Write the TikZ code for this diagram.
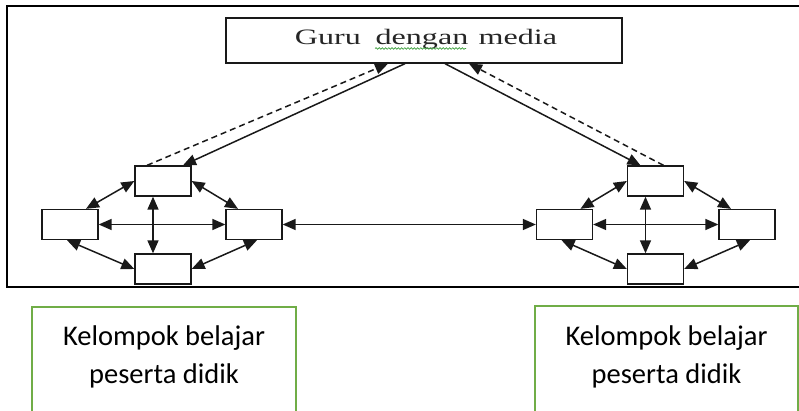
\documentclass[tikz,border=0pt]{standalone}
\usepackage{fontspec}
\setmainfont{Liberation Serif}
\newfontfamily\calib{Carlito}
\usetikzlibrary{arrows.meta,decorations.pathmorphing}
\definecolor{lin}{RGB}{25,25,25}
\definecolor{grn}{RGB}{112,173,71}
\definecolor{spell}{RGB}{60,160,60}
\tikzset{
  sbox/.style={draw=lin,line width=1.3pt,minimum width=56pt,minimum height=30pt,inner sep=0pt,fill=white},
  conn/.style={draw=lin,line width=1.5pt},
  tip/.tip={Triangle[length=13pt,width=11pt]},
  one/.style={conn,-tip},
  two/.style={conn,tip-tip},
  dsh/.style={conn,-tip,dash pattern=on 6pt off 4pt},
  ktext/.style={font=\calib\fontsize{28.5}{38}\selectfont,anchor=base,inner sep=0pt,text=black},
}
\begin{document}
\begin{tikzpicture}[x=1pt,y=-1pt]
\useasboundingbox (0,0) rectangle (799,411);
% outer frame (open on the right)
\draw[black,line width=2.4pt] (800,6) -- (7,6) -- (7,287) -- (800,287);
% teacher box
\node[draw=lin,line width=1.3pt,minimum width=396pt,minimum height=45pt,inner sep=0pt] (G) at (424,40.5) {};
\node[anchor=base,inner sep=0pt,font=\fontsize{22}{24}\selectfont,text=black!85] (Gt) at (426,44.3)
  {\scalebox{1.46}[1]{Guru\hspace{10pt}dengan\hspace{7pt}media}};
\draw[spell,line width=0.7pt,decorate,decoration={snake,segment length=3.2pt,amplitude=0.8pt}] (375,48.5) -- (466,48.5);
% left cluster
\node[sbox] (Lt) at (163,181) {};
\node[sbox] (Ll) at (70,224.5) {};
\node[sbox] (Lr) at (254,224.5) {};
\node[sbox] (Lb) at (163,269) {};
% right cluster
\node[sbox] (Rt) at (655.5,181) {};
\node[sbox] (Rl) at (564.5,224.5) {};
\node[sbox] (Rr) at (747,224.5) {};
\node[sbox] (Rb) at (655.5,269) {};
% connectors inside the clusters
\foreach \c in {L,R}{
  \draw[two] (\c t.west) -- ([xshift=16pt]\c l.north);
  \draw[two] (\c t.east) -- ([xshift=-16pt]\c r.north);
  \draw[two] ([xshift=-3pt]\c l.south) -- (\c b.west);
  \draw[two] ([xshift=3pt]\c r.south) -- (\c b.east);
  \draw[two] (\c l.east) -- (\c r.west);
  \draw[two] ([xshift=-10pt]\c t.south) -- ([xshift=-10pt]\c b.north);
}
% between the clusters
\draw[two] (Lr.east) -- (Rl.west);
% to and from the teacher
\draw[one] ([xshift=-19pt]G.south) -- ([xshift=20pt]Lt.north);
\draw[dsh] ([xshift=-16pt]Lt.north) -- ([xshift=-36pt]G.south);
\draw[one] ([xshift=21pt]G.south) -- ([xshift=-15pt]Rt.north);
\draw[dsh] ([xshift=8pt]Rt.north) -- ([xshift=45pt]G.south);
% green label boxes (cut off at the bottom)
\draw[grn,line width=2pt] (32,412) -- (32,307) -- (296,307) -- (296,412);
\draw[grn,line width=2pt] (535,412) -- (535,306) -- (798,306) -- (798,412);
\node[ktext] (k1a) at (164,345.7) {Kelompok belajar};
\node[ktext] (k1b) at (164,383.5) {peserta didik};
\node[ktext] (k2a) at (666.5,345.2) {Kelompok belajar};
\node[ktext] (k2b) at (666.5,383) {peserta didik};
\end{tikzpicture}
\end{document}
